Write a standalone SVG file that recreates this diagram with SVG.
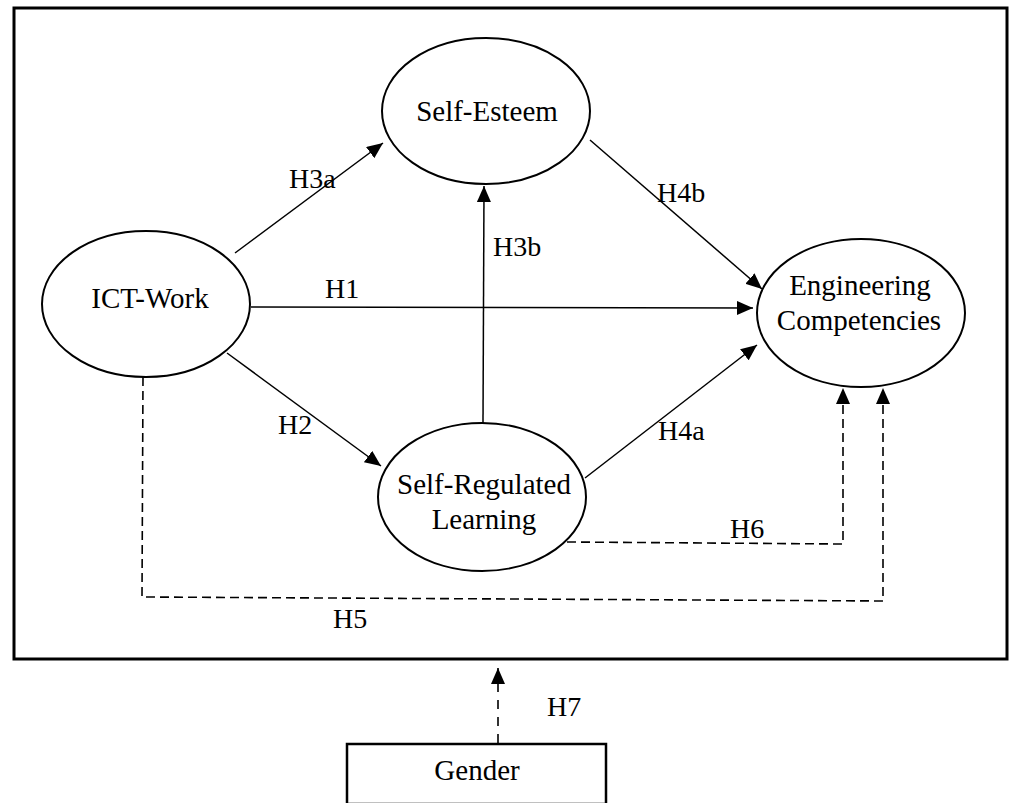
<svg xmlns="http://www.w3.org/2000/svg" width="1011" height="803" viewBox="0 0 1011 803">
<defs>
<style>
text{font-family:"Liberation Serif","Times New Roman",serif;fill:#000}
.node{font-size:29px;text-anchor:middle}
.lbl{font-size:28px}
.ell{fill:#fff;stroke:#000;stroke-width:2}
.solid{fill:none;stroke:#000;stroke-width:1.5}
.dash{fill:none;stroke:#000;stroke-width:1.6;stroke-dasharray:9,5}
</style>
<marker id="ah" markerUnits="userSpaceOnUse" viewBox="0 0 16 14" refX="16" refY="7" markerWidth="16" markerHeight="14" orient="auto">
<path d="M0,0 L16,7 L0,14 Z" fill="#000"/>
</marker>
</defs>
<rect x="0" y="0" width="1011" height="803" fill="#fff"/>
<rect id="frame" x="14" y="8" width="993" height="651" fill="none" stroke="#000" stroke-width="3"/>
<g id="connectors">
<line class="solid" x1="235" y1="253" x2="383" y2="143" marker-end="url(#ah)"/>
<line class="solid" x1="251" y1="307" x2="753" y2="308" marker-end="url(#ah)"/>
<line class="solid" x1="227" y1="353" x2="381" y2="466" marker-end="url(#ah)"/>
<line class="solid" x1="483" y1="423" x2="484" y2="186" marker-end="url(#ah)"/>
<line class="solid" x1="590" y1="140" x2="762" y2="289" marker-end="url(#ah)"/>
<line class="solid" x1="585" y1="478" x2="757" y2="345" marker-end="url(#ah)"/>
<polyline class="dash" points="567,542 843,544 843,388" marker-end="url(#ah)"/>
<polyline class="dash" points="143,377 142,597 883,601 883,388" marker-end="url(#ah)"/>
<line class="dash" x1="498" y1="743" x2="498" y2="668" stroke-width="2.5" style="stroke-dasharray:9,8" marker-end="url(#ah)"/>
<text class="lbl" x="289" y="188">H3a</text>
<text class="lbl" x="325" y="298">H1</text>
<text class="lbl" x="278" y="434">H2</text>
<text class="lbl" x="493" y="256">H3b</text>
<text class="lbl" x="657" y="202">H4b</text>
<text class="lbl" x="658" y="440">H4a</text>
<text class="lbl" x="730" y="538">H6</text>
<text class="lbl" x="333" y="628">H5</text>
<text class="lbl" x="547" y="716">H7</text>
</g>
<g id="self-esteem">
<ellipse class="ell" cx="486" cy="111" rx="104" ry="73"/>
<text class="node" x="487" y="121">Self-Esteem</text>
</g>
<g id="ict-work">
<ellipse class="ell" cx="146" cy="304" rx="104" ry="73"/>
<text class="node" x="150" y="308">ICT-Work</text>
</g>
<g id="engineering-competencies">
<ellipse class="ell" cx="861" cy="313" rx="104" ry="74"/>
<text class="node" x="860" y="295">Engineering</text>
<text class="node" x="859" y="330">Competencies</text>
</g>
<g id="self-regulated-learning">
<ellipse class="ell" cx="482" cy="497" rx="104" ry="74"/>
<text class="node" x="484" y="494">Self-Regulated</text>
<text class="node" x="484" y="529">Learning</text>
</g>
<g id="gender">
<rect x="347" y="744" width="259" height="60" fill="#fff" stroke="#000" stroke-width="2.5"/>
<text class="node" x="477" y="780">Gender</text>
</g>
</svg>
